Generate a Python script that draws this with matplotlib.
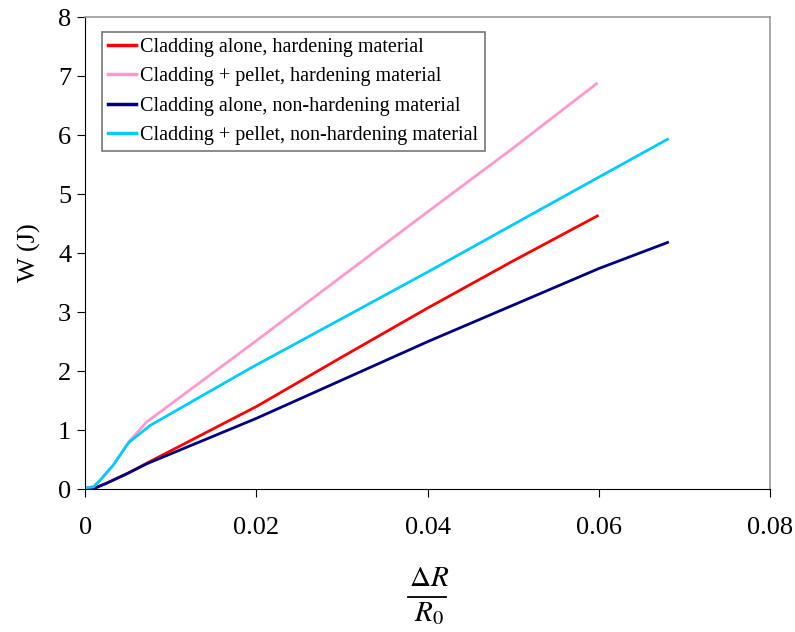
import matplotlib.pyplot as plt
from matplotlib.lines import Line2D

plt.rcParams['font.family'] = ['Liberation Serif', 'DejaVu Serif']
plt.rcParams['mathtext.fontset'] = 'stix'

# strain dR/R0 and work W (J) for each case
x_pink = [0, 0.001, 0.00175, 0.0033, 0.0051, 0.0072, 0.0193, 0.040, 0.0497, 0.0597]
w_pink = [0.02, 0.04, 0.15, 0.41, 0.80, 1.14, 2.44, 4.70, 5.75, 6.87]

x_cyan = [0, 0.001, 0.00175, 0.0033, 0.0051, 0.0076, 0.0193, 0.040, 0.0544, 0.068]
w_cyan = [0.02, 0.04, 0.15, 0.41, 0.79, 1.08, 2.05, 3.68, 4.84, 5.93]

x_red = [0, 0.001, 0.0025, 0.005, 0.0072, 0.020, 0.030, 0.040, 0.050, 0.0598]
w_red = [0, 0.01, 0.10, 0.27, 0.44, 1.40, 2.24, 3.07, 3.87, 4.63]

x_navy = [0, 0.001, 0.0025, 0.005, 0.0072, 0.020, 0.040, 0.060, 0.068]
w_navy = [0, 0.01, 0.10, 0.27, 0.43, 1.20, 2.50, 3.74, 4.18]

labels = ['Cladding alone, hardening material',
          'Cladding + pellet, hardening material',
          'Cladding alone, non-hardening material',
          'Cladding + pellet, non-hardening material']

fig = plt.figure(figsize=(7.95, 6.32), dpi=100)
ax = fig.add_axes([0.107, 0.226, 0.862, 0.747])

ax.plot(x_red, w_red, color='#FF0000', lw=2, label=labels[0])
ax.plot(x_pink, w_pink, color='#FF99CC', lw=2, label=labels[1])
ax.plot(x_navy, w_navy, color='#000080', lw=2, label=labels[2])
ax.plot(x_cyan, w_cyan, color='#00CCFF', lw=2, label=labels[3])

ax.set_xlim(0, 0.08)
ax.set_ylim(0, 8)
ax.set_xticks([0, 0.02, 0.04, 0.06, 0.08])
ax.set_xticklabels(['0', '0.02', '0.04', '0.06', '0.08'])
ax.set_yticks(range(0, 9))
ax.tick_params(direction='out', length=6, labelsize=19)
ax.tick_params(axis='x', pad=14)
ax.tick_params(axis='y', pad=4)

for side in ['top', 'right']:
    ax.spines[side].set_color('#999999')
    ax.spines[side].set_linewidth(1.2)
for side in ['left', 'bottom']:
    ax.spines[side].set_color('black')

ax.set_ylabel('W (J)', fontsize=19, labelpad=12)

# x label drawn as a stacked fraction dR / R0
fig.text(0.540, 1 - 579 / 632, r'$\Delta R$', fontsize=21, ha='center', va='center')
fig.add_artist(Line2D([408 / 795, 446 / 795], [1 - 597 / 632, 1 - 597 / 632],
                      color='black', lw=1.3, transform=fig.transFigure))
fig.text(0.540, 1 - 614 / 632, r'$R_0$', fontsize=21, ha='center', va='center')

leg = ax.legend(loc='upper left', bbox_to_anchor=(0.025, 0.968), fontsize=14.5,
                frameon=True, fancybox=False, handlelength=1.4, handletextpad=0.2,
                borderpad=0.3, labelspacing=0.5, borderaxespad=0)
leg.get_frame().set_edgecolor('#555555')
leg.get_frame().set_linewidth(1.2)
for line in leg.get_lines():
    line.set_linewidth(2.5)

fig.savefig('out.png', dpi=100)
